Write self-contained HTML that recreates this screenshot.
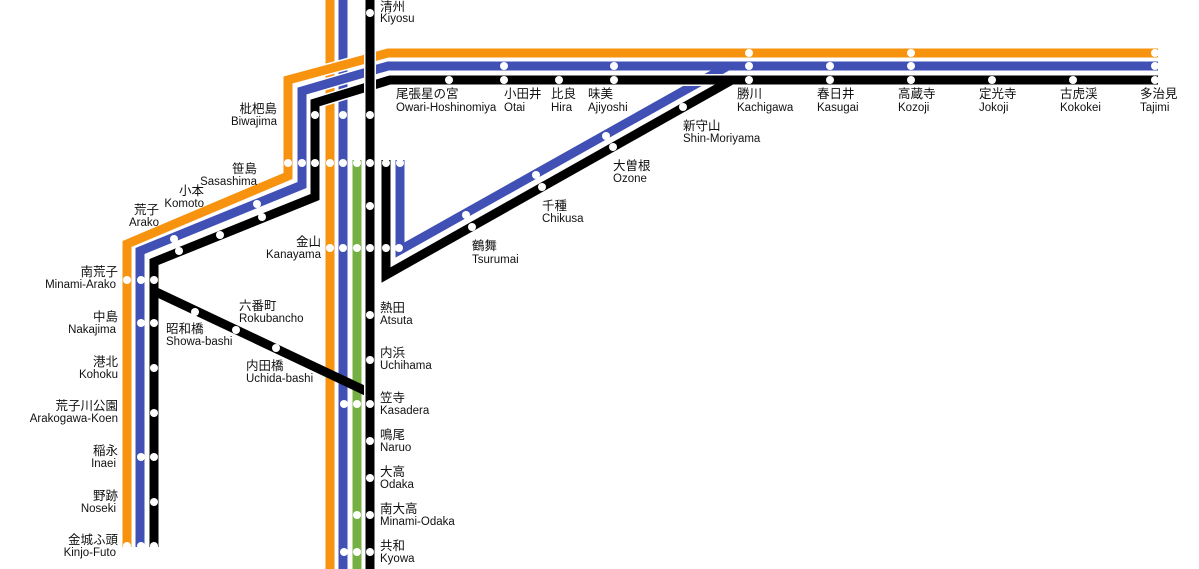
<!DOCTYPE html>
<html><head><meta charset="utf-8"><style>
html,body{margin:0;padding:0;background:#fff;}
svg{display:block;}
text{font-family:"Liberation Sans","Noto Sans CJK JP",sans-serif;fill:#111;}
.j{font-size:12.5px;}
.e{font-size:11.5px;}
</style></head><body>
<svg width="1199" height="569" viewBox="0 0 1199 569" xmlns="http://www.w3.org/2000/svg">
<g fill="none" stroke-linejoin="miter" stroke-linecap="butt">
<line x1="330" y1="0" x2="330" y2="569" stroke="#fff" stroke-width="12"/>
<line x1="330" y1="0" x2="330" y2="569" stroke="#f7930f" stroke-width="9"/>
<line x1="343" y1="0" x2="343" y2="569" stroke="#fff" stroke-width="12"/>
<line x1="343" y1="0" x2="343" y2="569" stroke="#4050b5" stroke-width="9"/>
<line x1="357" y1="160" x2="357" y2="569" stroke="#fff" stroke-width="12"/>
<line x1="357" y1="160" x2="357" y2="569" stroke="#76b043" stroke-width="9"/>
<polyline points="127,547 127,244 288,176 288,80 388,53 1158,53" stroke="#fff" stroke-width="12"/>
<polyline points="127,547 127,244 288,176 288,80 388,53 1158,53" stroke="#f7930f" stroke-width="9"/>
<polyline points="140,547 140,251 302,185 302,91 388,66 1158,66" stroke="#fff" stroke-width="12"/>
<polyline points="140,547 140,251 302,185 302,91 388,66 1158,66" stroke="#4050b5" stroke-width="9"/>
<polyline points="400,160 400,250 728,66 740,66" stroke="#4050b5" stroke-width="9"/>
<polyline points="154,547 154,262 315,197 315,103 390,80 1158,80" stroke="#fff" stroke-width="12"/>
<polyline points="154,547 154,262 315,197 315,103 390,80 1158,80" stroke="#000" stroke-width="9"/>
<polyline points="386,160 386,275 732,80 745,80" stroke="#000" stroke-width="9"/>
<line x1="154" y1="291" x2="370" y2="393" stroke="#000" stroke-width="9"/>
<line x1="370" y1="0" x2="370" y2="569" stroke="#fff" stroke-width="12"/>
<line x1="370" y1="0" x2="370" y2="569" stroke="#000" stroke-width="9"/>
</g>
<g fill="#fff">
<circle cx="749" cy="53" r="4"/><circle cx="911" cy="53" r="4"/><circle cx="1155" cy="53" r="4"/>
<circle cx="504" cy="66" r="4"/><circle cx="614" cy="66" r="4"/><circle cx="749" cy="66" r="4"/><circle cx="830" cy="66" r="4"/><circle cx="911" cy="66" r="4"/><circle cx="1155" cy="66" r="4"/>
<circle cx="449" cy="80" r="4"/><circle cx="504" cy="80" r="4"/><circle cx="559" cy="80" r="4"/><circle cx="614" cy="80" r="4"/><circle cx="749" cy="80" r="4"/><circle cx="830" cy="80" r="4"/><circle cx="911" cy="80" r="4"/><circle cx="992" cy="80" r="4"/><circle cx="1073" cy="80" r="4"/><circle cx="1155" cy="80" r="4"/>
<circle cx="606" cy="136" r="4"/><circle cx="536" cy="175" r="4"/><circle cx="466" cy="215" r="4"/><circle cx="399" cy="248" r="4"/>
<circle cx="683" cy="107" r="4"/><circle cx="613" cy="147" r="4"/><circle cx="542" cy="187" r="4"/><circle cx="472" cy="227" r="4"/><circle cx="386" cy="248" r="4"/>
<circle cx="288" cy="163" r="4"/><circle cx="302" cy="163" r="4"/><circle cx="315" cy="163" r="4"/><circle cx="330" cy="163" r="4"/><circle cx="343" cy="163" r="4"/><circle cx="357" cy="163" r="4"/><circle cx="370" cy="163" r="4"/><circle cx="386" cy="163" r="4"/><circle cx="400" cy="163" r="4"/>
<circle cx="330" cy="248" r="4"/><circle cx="343" cy="248" r="4"/><circle cx="357" cy="248" r="4"/><circle cx="370" cy="248" r="4"/>
<circle cx="370" cy="13" r="4"/><circle cx="315" cy="115" r="4"/><circle cx="343" cy="115" r="4"/><circle cx="370" cy="115" r="4"/>
<circle cx="370" cy="206" r="4"/><circle cx="370" cy="315" r="4"/><circle cx="370" cy="360" r="4"/>
<circle cx="344" cy="404" r="4"/><circle cx="357" cy="404" r="4"/><circle cx="370" cy="404" r="4"/>
<circle cx="370" cy="441" r="4"/><circle cx="370" cy="478" r="4"/><circle cx="357" cy="515" r="4"/><circle cx="370" cy="515" r="4"/>
<circle cx="344" cy="552" r="4"/><circle cx="357" cy="552" r="4"/><circle cx="370" cy="552" r="4"/>
<circle cx="257" cy="204" r="4"/><circle cx="174" cy="239" r="4"/><circle cx="262" cy="217" r="4"/><circle cx="220" cy="235" r="4"/><circle cx="179" cy="251" r="4"/>
<circle cx="127" cy="280" r="4"/><circle cx="141" cy="280" r="4"/><circle cx="154" cy="280" r="4"/>
<circle cx="141" cy="323" r="4"/><circle cx="154" cy="323" r="4"/><circle cx="154" cy="368" r="4"/><circle cx="154" cy="413" r="4"/>
<circle cx="141" cy="457" r="4"/><circle cx="154" cy="457" r="4"/><circle cx="154" cy="502" r="4"/>
<circle cx="127" cy="546" r="4"/><circle cx="141" cy="546" r="4"/><circle cx="154" cy="546" r="4"/>
<circle cx="195" cy="312" r="4"/><circle cx="236" cy="330" r="4"/><circle cx="276" cy="348" r="4"/>
</g>
<g>
<text class="j" x="380" y="11">清州</text><text class="e" x="380" y="22">Kiyosu</text>
<text class="j" x="396" y="98">尾張星の宮</text><text class="e" x="396" y="111">Owari-Hoshinomiya</text>
<text class="j" x="504" y="98">小田井</text><text class="e" x="504" y="111">Otai</text>
<text class="j" x="551" y="98">比良</text><text class="e" x="551" y="111">Hira</text>
<text class="j" x="588" y="98">味美</text><text class="e" x="588" y="111">Ajiyoshi</text>
<text class="j" x="737" y="98">勝川</text><text class="e" x="737" y="111">Kachigawa</text>
<text class="j" x="817" y="98">春日井</text><text class="e" x="817" y="111">Kasugai</text>
<text class="j" x="898" y="98">高蔵寺</text><text class="e" x="898" y="111">Kozoji</text>
<text class="j" x="979" y="98">定光寺</text><text class="e" x="979" y="111">Jokoji</text>
<text class="j" x="1060" y="98">古虎渓</text><text class="e" x="1060" y="111">Kokokei</text>
<text class="j" x="1140" y="98">多治見</text><text class="e" x="1140" y="111">Tajimi</text>
<text class="j" x="683" y="130">新守山</text><text class="e" x="683" y="142">Shin-Moriyama</text>
<text class="j" x="613" y="170">大曽根</text><text class="e" x="613" y="182">Ozone</text>
<text class="j" x="542" y="210">千種</text><text class="e" x="542" y="222">Chikusa</text>
<text class="j" x="472" y="250">鶴舞</text><text class="e" x="472" y="263">Tsurumai</text>
<g text-anchor="end">
<text class="j" x="277" y="113">枇杷島</text><text class="e" x="277" y="125">Biwajima</text>
<text class="j" x="257" y="173">笹島</text><text class="e" x="257" y="185">Sasashima</text>
<text class="j" x="204" y="195">小本</text><text class="e" x="204" y="207">Komoto</text>
<text class="j" x="159" y="214">荒子</text><text class="e" x="159" y="226">Arako</text>
<text class="j" x="321" y="246">金山</text><text class="e" x="321" y="258">Kanayama</text>
<text class="j" x="118" y="276">南荒子</text><text class="e" x="116" y="288">Minami-Arako</text>
<text class="j" x="118" y="321">中島</text><text class="e" x="116" y="333">Nakajima</text>
<text class="j" x="118" y="366">港北</text><text class="e" x="118" y="378">Kohoku</text>
<text class="j" x="118" y="410">荒子川公園</text><text class="e" x="118" y="422">Arakogawa-Koen</text>
<text class="j" x="118" y="455">稲永</text><text class="e" x="116" y="467">Inaei</text>
<text class="j" x="118" y="500">野跡</text><text class="e" x="116" y="512">Noseki</text>
<text class="j" x="118" y="544">金城ふ頭</text><text class="e" x="116" y="556">Kinjo-Futo</text>
</g>
<text class="j" x="166" y="333">昭和橋</text><text class="e" x="166" y="345">Showa-bashi</text>
<text class="j" x="239" y="310">六番町</text><text class="e" x="239" y="322">Rokubancho</text>
<text class="j" x="246" y="370">内田橋</text><text class="e" x="246" y="382">Uchida-bashi</text>
<text class="j" x="380" y="312">熱田</text><text class="e" x="380" y="324">Atsuta</text>
<text class="j" x="380" y="357">内浜</text><text class="e" x="380" y="369">Uchihama</text>
<text class="j" x="380" y="402">笠寺</text><text class="e" x="380" y="414">Kasadera</text>
<text class="j" x="380" y="439">鳴尾</text><text class="e" x="380" y="451">Naruo</text>
<text class="j" x="380" y="476">大高</text><text class="e" x="380" y="488">Odaka</text>
<text class="j" x="380" y="513">南大高</text><text class="e" x="380" y="525">Minami-Odaka</text>
<text class="j" x="380" y="550">共和</text><text class="e" x="380" y="562">Kyowa</text>
</g>
</svg>
</body></html>
